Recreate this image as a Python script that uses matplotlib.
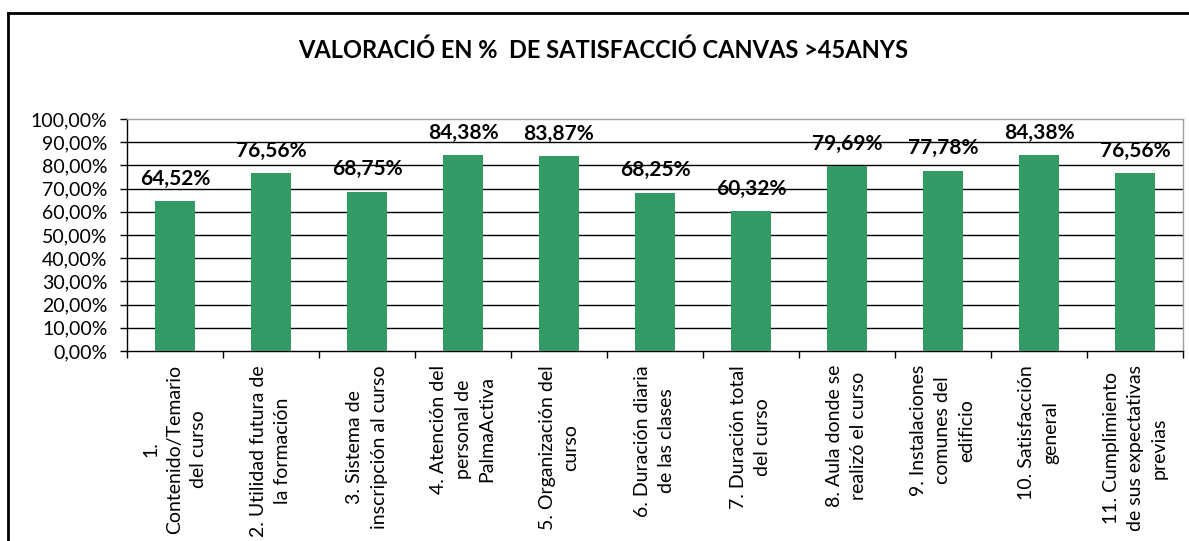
import matplotlib
matplotlib.use("Agg")
import matplotlib.pyplot as plt
from matplotlib.lines import Line2D
from matplotlib.ticker import FixedLocator

categories = [
    "1.\nContenido/Temario\ndel curso",
    "2. Utilidad futura de\nla formación",
    "3. Sistema de\ninscripción al curso",
    "4. Atención del\npersonal de\nPalmaActiva",
    "5. Organización del\ncurso",
    "6. Duración diaria\nde las clases",
    "7. Duración total\ndel curso",
    "8. Aula donde se\nrealizó el curso",
    "9. Instalaciones\ncomunes del\nedificio",
    "10. Satisfacción\ngeneral",
    "11. Cumplimiento\nde sus expectativas\nprevias",
]
values = [64.52, 76.56, 68.75, 84.38, 83.87, 68.25, 60.32, 79.69, 77.78, 84.38, 76.56]
yticks = [0, 10, 20, 30, 40, 50, 60, 70, 80, 90, 100]
title = "VALORACIÓ EN %  DE SATISFACCIÓ CANVAS >45ANYS"

plt.rcParams['font.family'] = ['Lato', 'DejaVu Sans']

W, H = 1189, 541
fig = plt.figure(figsize=(W / 100, H / 100), dpi=100)
ax = fig.add_axes([127 / W, 1 - 351 / H, (1183 - 127) / W, (351 - 119) / H])

x = list(range(len(values)))
ax.bar(x, values, width=0.42, color="#339966", zorder=3)

for xi, v in zip(x, values):
    ax.annotate(f"{v:.2f}%".replace(".", ","), (xi, v), xytext=(0, 9),
                textcoords="offset points", ha="center", va="bottom",
                fontsize=15, fontweight="bold", color="black")

ax.set_xlim(-0.5, len(values) - 0.5)
ax.set_ylim(0, 100)
ax.set_yticks(yticks)
ax.set_yticklabels([f"{t:.2f}%".replace(".", ",") for t in yticks], fontsize=14)
for t in yticks[1:-1]:
    ax.axhline(t, color="black", lw=1, zorder=1)

ax.xaxis.set_major_locator(FixedLocator([i - 0.5 for i in range(len(values) + 1)]))
ax.set_xticklabels([])
ax.tick_params(axis="x", which="major", direction="out", length=5, width=1, color="black")
ax.tick_params(axis="y", direction="out", length=5, width=1, color="black", pad=9)

for xi, lab in zip(x, categories):
    ax.text(xi, -6, lab, rotation=90, ha="center", va="top", multialignment="center",
            fontsize=14, linespacing=1.5, transform=ax.transData, clip_on=False)

for s in ["top", "right"]:
    ax.spines[s].set_color("#a0a0a0")
    ax.spines[s].set_linewidth(1)
for s in ["left", "bottom"]:
    ax.spines[s].set_color("black")
    ax.spines[s].set_linewidth(1)

fig.text(603 / W, 1 - 50 / H, title, ha="center", va="center", fontsize=17, fontweight="bold")

fig.add_artist(Line2D([8 / W, 8 / W], [0, 1 - 13 / H], transform=fig.transFigure, color="black", lw=2))
fig.add_artist(Line2D([8 / W, 1], [1 - 13 / H, 1 - 13 / H], transform=fig.transFigure, color="black", lw=2))

fig.savefig("out.png", dpi=100)
